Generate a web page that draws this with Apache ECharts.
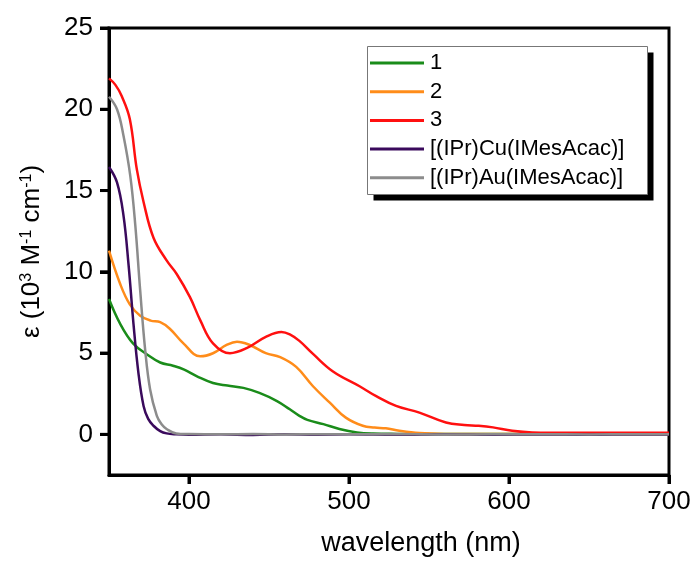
<!DOCTYPE html>
<html>
<head>
<meta charset="utf-8">
<script src="https://cdn.jsdelivr.net/npm/echarts@6/dist/echarts.min.js"></script>
</head>
<body style="margin:0">
<div id="c" style="width:694px;height:562px"></div>
<script>
var seriesNames = ['1', '2', '3', '[(IPr)Cu(IMesAcac)]', '[(IPr)Au(IMesAcac)]'];
var xTicks = [400, 500, 600, 700];
var yTicks = [0, 5, 10, 15, 20, 25];

var wl1 = [350,357,365,374,382,390,397,405,415,424,434,444,455,463,469,474,484,494,505,515,530,560,600,650,700];
var v1  = [8.33,6.8,5.6,4.9,4.42,4.22,3.98,3.57,3.16,3.0,2.86,2.55,2.05,1.54,1.14,0.89,0.63,0.33,0.12,0.05,0.03,0.02,0.02,0.02,0.02];

var wl2 = [350,357,363,369.5,376,382,388,396.5,407,415,423.5,430,438,448,457,467,477.5,488,498,508.6,516,523,531.5,544,560,600,650,700];
var v2  = [11.3,9.25,8.0,7.3,7.0,6.9,6.5,5.6,4.8,4.99,5.5,5.7,5.5,5.0,4.75,4.15,2.96,1.95,1.03,0.53,0.42,0.37,0.22,0.08,0.03,0.02,0.02,0.02];

var wl3 = [350,354,358,363,367.4,371.6,377.8,386,392.4,400.6,407,415,425.6,436,448,457.8,463,469,477.5,490,506.6,517,529.4,544,560.6,572,581,590,602,614.5,640,670,700];
var v3  = [21.9,21.5,20.8,19.4,16.3,14.3,12.1,10.7,9.85,8.44,7.03,5.6,4.99,5.3,6.0,6.3,6.15,5.75,4.95,3.87,2.96,2.35,1.75,1.34,0.73,0.58,0.53,0.43,0.22,0.12,0.1,0.1,0.1];

var wlCu = [350,355,359,362.2,365.3,368.4,371.6,374.5,377.8,382,386,392,400,420,440,460,480,500,530,560,590,620,650,680,700];
var vCu  = [16.45,15.5,13.5,10.46,6.8,3.77,1.75,0.95,0.53,0.2,0.06,0.0,-0.03,0.0,-0.04,0.01,-0.02,0.0,-0.03,0.01,-0.02,0.0,-0.03,0.0,-0.01];

var wlAu = [350,355,359,363.3,366.4,369.5,372.6,375.7,379.9,383,386,392,400,420,440,460,480,500,530,560,590,620,650,680,700];
var vAu  = [20.77,20.0,18.4,15.9,12.9,8.84,5.2,2.76,1.14,0.6,0.33,0.06,0.02,0.0,0.02,-0.01,0.01,0.0,0.02,-0.01,0.0,0.01,-0.01,0.01,0.0];

var colors = ['#1a8c1a', '#ff8c1a', '#ff1010', '#3a0a5c', '#8c8c8c'];

function pairs(xs, ys) { return xs.map(function (x, i) { return [x, ys[i]]; }); }
var allData = [pairs(wl1, v1), pairs(wl2, v2), pairs(wl3, v3), pairs(wlCu, vCu), pairs(wlAu, vAu)];

var FONT = 'Liberation Sans';
var X_MIN = 350, X_MAX = 700, Y_MIN = -2.5, Y_MAX = 25;
var TICK = 9;

// legend drawn as a framed box with a hard black shadow
var LEG_X = 367.5, LEG_Y = 46.5, LEG_W = 280, LEG_H = 148, ROW0 = 63, ROW_STEP = 28.7;
var legendGraphic = [
  {type: 'rect', z: 10, silent: true, shape: {x: LEG_X + 6, y: LEG_Y + 6, width: LEG_W, height: LEG_H}, style: {fill: '#000'}},
  {type: 'rect', z: 11, silent: true, shape: {x: LEG_X, y: LEG_Y, width: LEG_W, height: LEG_H}, style: {fill: '#fff', stroke: '#777', lineWidth: 1}}
];
seriesNames.forEach(function (n, i) {
  var cy = ROW0 + i * ROW_STEP;
  legendGraphic.push({type: 'rect', z: 12, silent: true, shape: {x: 370, y: cy - 1.5, width: 54, height: 3}, style: {fill: colors[i]}});
  legendGraphic.push({type: 'text', z: 12, silent: true, x: 430, y: cy,
    style: {text: n, fill: '#000', font: '22px "Liberation Sans"', verticalAlign: 'middle', align: 'left'}});
});

var lineSeries = seriesNames.map(function (n, i) {
  return {
    name: n, type: 'line', data: allData[i], smooth: 0.4, showSymbol: false,
    lineStyle: {width: 2.5, color: colors[i]}, itemStyle: {color: colors[i]}, z: 2 + i
  };
});

// outward tick marks, positioned through the axis scales
var tickSeries = [{
  type: 'custom', silent: true, clip: false, z: 20,
  data: xTicks.map(function (v) { return [v, Y_MIN]; }),
  renderItem: function (params, api) {
    var p = api.coord([api.value(0), api.value(1)]);
    return {type: 'line', shape: {x1: p[0], y1: p[1], x2: p[0], y2: p[1] + TICK}, style: {stroke: '#000', lineWidth: 3}};
  }
}, {
  type: 'custom', silent: true, clip: false, z: 20,
  data: yTicks.map(function (v) { return [X_MIN, v]; }),
  renderItem: function (params, api) {
    var p = api.coord([api.value(0), api.value(1)]);
    return {type: 'line', shape: {x1: p[0] - TICK, y1: p[1], x2: p[0], y2: p[1]}, style: {stroke: '#000', lineWidth: 3}};
  }
}];

var chart = echarts.init(document.getElementById('c'));
chart.setOption({
  animation: false,
  grid: {left: 109, top: 28, right: 25, bottom: 82, show: true, borderColor: '#000', borderWidth: 3},
  graphic: legendGraphic,
  xAxis: {
    type: 'value', min: X_MIN, max: X_MAX,
    name: 'wavelength (nm)', nameLocation: 'middle', nameGap: 55,
    nameTextStyle: {fontFamily: FONT, fontSize: 27, color: '#000', padding: [0, 0, 0, 64]},
    axisLine: {show: true, onZero: false, lineStyle: {color: '#000', width: 3}},
    axisTick: {show: true, length: TICK, lineStyle: {color: '#000', width: 3}, customValues: xTicks},
    axisLabel: {fontFamily: FONT, fontSize: 26, color: '#000', margin: 14, customValues: xTicks},
    splitLine: {show: false}
  },
  yAxis: {
    type: 'value', min: Y_MIN, max: Y_MAX,
    name: 'ε (10{sup|3} M{sup|-1} cm{sup|-1})', nameLocation: 'middle', nameGap: 64,
    nameTextStyle: {fontFamily: FONT, fontSize: 26, color: '#000',
      rich: {sup: {fontFamily: FONT, fontSize: 16, color: '#000', verticalAlign: 'top', padding: [0, 0, 10, 0]}}},
    axisLine: {show: true, onZero: false, lineStyle: {color: '#000', width: 3}},
    axisTick: {show: true, length: TICK, lineStyle: {color: '#000', width: 3}, customValues: yTicks},
    axisLabel: {fontFamily: FONT, fontSize: 26, color: '#000', margin: 16, customValues: yTicks},
    splitLine: {show: false}
  },
  series: lineSeries.concat(tickSeries)
});
</script>
</body>
</html>
